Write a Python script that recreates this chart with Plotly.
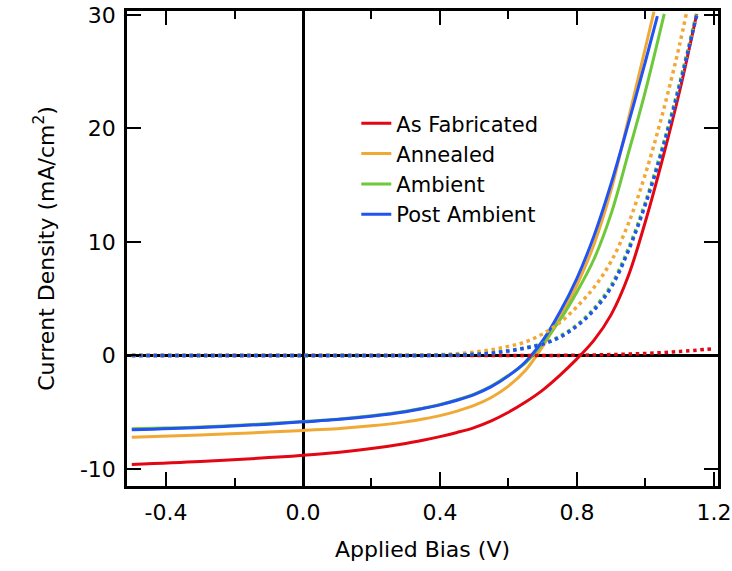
import plotly.graph_objects as go

# ---- data ----
v_red = [-0.5, -0.3, -0.1, 0.0, 0.1, 0.2, 0.3, 0.35, 0.4, 0.45, 0.5, 0.55, 0.6, 0.65, 0.7, 0.75, 0.8, 0.85, 0.9, 0.95, 1.0, 1.05, 1.1, 1.15]
j_red = [-9.6, -9.35, -9.0, -8.8, -8.55, -8.2, -7.75, -7.47, -7.15, -6.78, -6.35, -5.76, -5.0, -4.1, -3.05, -1.75, -0.3, 1.35, 3.6, 7.0, 11.8, 17.3, 23.3, 30.1]

v_orange = [-0.5, -0.3, -0.1, 0.0, 0.1, 0.2, 0.3, 0.35, 0.4, 0.45, 0.5, 0.55, 0.6, 0.65, 0.7, 0.75, 0.8, 0.85, 0.9, 0.95, 1.0, 1.025]
j_orange = [-7.2, -7.0, -6.75, -6.6, -6.45, -6.2, -5.85, -5.6, -5.3, -4.9, -4.4, -3.7, -2.7, -1.3, 0.8, 3.3, 6.2, 9.8, 14.6, 20.8, 27.1, 30.3]

v_green = [-0.5, -0.3, -0.1, 0.0, 0.1, 0.2, 0.3, 0.35, 0.4, 0.45, 0.5, 0.55, 0.6, 0.65, 0.7, 0.75, 0.8, 0.85, 0.9, 0.95, 1.0, 1.055]
j_green = [-6.45, -6.3, -6.0, -5.82, -5.62, -5.32, -4.92, -4.64, -4.32, -3.9, -3.4, -2.7, -1.75, -0.65, 1.05, 3.1, 5.6, 8.5, 12.5, 17.8, 23.3, 30.1]

v_blue = [-0.5, -0.3, -0.1, 0.0, 0.1, 0.2, 0.3, 0.35, 0.4, 0.45, 0.5, 0.55, 0.6, 0.65, 0.7, 0.75, 0.8, 0.85, 0.9, 0.95, 1.0, 1.035]
j_blue = [-6.55, -6.35, -6.05, -5.85, -5.65, -5.35, -4.95, -4.67, -4.35, -3.95, -3.45, -2.75, -1.8, -0.55, 1.3, 3.8, 6.8, 10.55, 15.15, 20.4, 25.9, 29.9]

# dark curves (dotted)
vd_red = [-0.5, 0.0, 0.4, 0.6, 0.8, 0.9, 1.0, 1.1, 1.2]
jd_red = [0.0, 0.0, 0.0, 0.0, 0.02, 0.08, 0.18, 0.35, 0.6]

vd_orange = [-0.5, 0.0, 0.3, 0.4, 0.45, 0.5, 0.55, 0.6, 0.65, 0.7, 0.75, 0.8, 0.85, 0.9, 0.95, 1.0, 1.05, 1.1, 1.12]
jd_orange = [0.0, 0.0, 0.02, 0.08, 0.15, 0.3, 0.5, 0.8, 1.2, 1.9, 2.9, 4.3, 6.0, 8.3, 11.6, 16.0, 21.3, 27.4, 30.2]

vd_green = [-0.5, 0.0, 0.4, 0.5, 0.55, 0.6, 0.65, 0.7, 0.75, 0.8, 0.85, 0.9, 0.95, 1.0, 1.05, 1.1, 1.15]
jd_green = [0.0, 0.0, 0.02, 0.12, 0.22, 0.42, 0.7, 1.05, 1.7, 2.7, 4.15, 6.2, 9.4, 13.5, 18.4, 24.0, 30.2]

vd_blue = [-0.5, 0.0, 0.4, 0.5, 0.55, 0.6, 0.65, 0.7, 0.75, 0.8, 0.85, 0.9, 0.95, 1.0, 1.05, 1.1, 1.15]
jd_blue = [0.0, 0.0, 0.02, 0.1, 0.2, 0.4, 0.65, 1.0, 1.6, 2.6, 4.0, 6.0, 9.2, 13.3, 18.2, 23.8, 30.0]

names = ["As Fabricated", "Annealed", "Ambient", "Post Ambient"]
colors = ["#E30613", "#F0A935", "#6DC83A", "#2152F2"]

x_tickvals = [-0.4, 0.0, 0.4, 0.8, 1.2]
x_ticktext = ["-0.4", "0.0", "0.4", "0.8", "1.2"]
y_tickvals = [-10, 0, 10, 20, 30]
y_ticktext = ["-10", "0", "10", "20", "30"]

light = [(v_red, j_red), (v_orange, j_orange), (v_green, j_green), (v_blue, j_blue)]
dark = [(vd_red, jd_red), (vd_orange, jd_orange), (vd_green, jd_green), (vd_blue, jd_blue)]

FONT = "DejaVu Sans"
FS = 22

fig = go.Figure()
for (x, y), name, c in zip(light, names, colors):
    fig.add_trace(go.Scatter(x=x, y=y, mode="lines", name=name, legendgroup=name,
                             line=dict(color=c, width=3, shape="spline", smoothing=1.0)))
for (x, y), name, c in zip(dark, names, colors):
    fig.add_trace(go.Scatter(x=x, y=y, mode="lines", name=name + " (dark)", showlegend=False,
                             line=dict(color=c, width=3.5, dash="3.5px,3.7px", shape="spline", smoothing=1.0)))

axis_common = dict(
    automargin=False,
    showgrid=False, showline=True, linecolor="black", linewidth=2.5, mirror="ticks",
    ticks="inside", ticklen=14, tickwidth=2, tickcolor="black",
    zeroline=True, zerolinecolor="black", zerolinewidth=3,
    tickfont=dict(family=FONT, size=FS, color="black"),
)

fig.update_xaxes(
    range=[-0.514, 1.212], tickmode="array", tickvals=x_tickvals, ticktext=x_ticktext,
    minor=dict(ticks="inside", ticklen=8, tickwidth=2, tickcolor="black", dtick=0.2, tick0=0, showgrid=False),
    ticklabelstandoff=5,
    title=dict(text="Applied Bias (V)", font=dict(family=FONT, size=FS, color="black"), standoff=18),
    **axis_common,
)
fig.update_yaxes(
    range=[-11.5, 30.35], tickmode="array", tickvals=y_tickvals, ticktext=y_ticktext,
    ticklabelstandoff=4,
    title=dict(text="Current Density (mA/cm<sup>2</sup>)", font=dict(family=FONT, size=FS, color="black"), standoff=20),
    **axis_common,
)

fig.update_layout(
    width=732, height=571,
    margin=dict(l=127, r=14, t=11, b=85),
    paper_bgcolor="white", plot_bgcolor="white",
    font=dict(family=FONT, color="black"),
    showlegend=True,
    legend=dict(x=0.388, y=0.806, xanchor="left", yanchor="top",
                bgcolor="rgba(0,0,0,0)", borderwidth=0,
                font=dict(family=FONT, size=21, color="black"),
                tracegroupgap=0),
)

fig.write_html("out.html", config={"displayModeBar": False},
               post_script="document.body.style.margin='0px';document.body.style.overflow='hidden';")
